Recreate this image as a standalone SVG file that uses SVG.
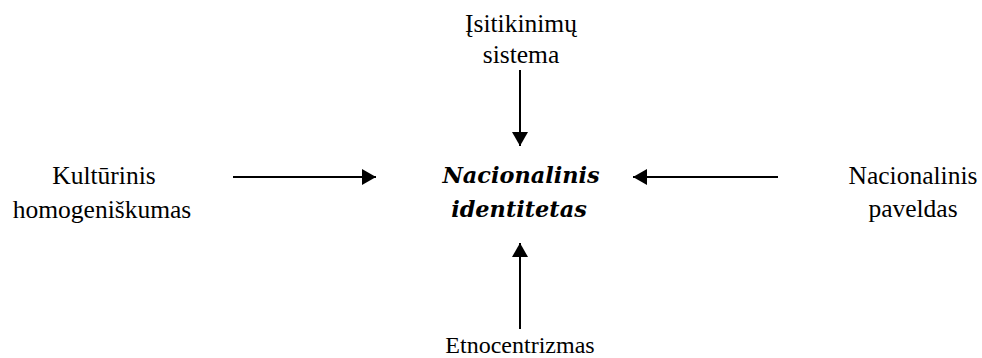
<svg xmlns="http://www.w3.org/2000/svg" width="982" height="358" viewBox="0 0 982 358">
  <defs>
    <!-- solid triangular arrowhead shared by all connectors -->
    <marker id="head" viewBox="0 0 14 16" refX="14" refY="8" markerWidth="14" markerHeight="16" markerUnits="userSpaceOnUse" orient="auto">
      <path d="M0,0 L14,8 L0,16 Z" fill="#000"/>
    </marker>
  </defs>
  <rect width="982" height="358" fill="#fff"/>

  <g id="connectors" stroke="#000" stroke-width="2" fill="none" marker-end="url(#head)">
    <line x1="520" y1="70" x2="520" y2="146"/>
    <line x1="233" y1="177" x2="376" y2="177"/>
    <line x1="778" y1="177" x2="633" y2="177"/>
    <line x1="520" y1="329" x2="520" y2="243"/>
  </g>

  <g id="node-isitikinimu">
    <text x="521" y="32" font-family="'Liberation Serif', serif" font-size="25.5" text-anchor="middle">Įsitikinimų</text>
    <text x="521" y="63" font-family="'Liberation Serif', serif" font-size="25.5" text-anchor="middle">sistema</text>
  </g>

  <g id="node-kulturinis">
    <text x="104" y="184" font-family="'Liberation Serif', serif" font-size="25.5" text-anchor="middle">Kultūrinis</text>
    <text x="102" y="218" font-family="'Liberation Serif', serif" font-size="25.5" text-anchor="middle">homogeniškumas</text>
  </g>

  <g id="node-paveldas">
    <text x="913" y="184" font-family="'Liberation Serif', serif" font-size="25.5" text-anchor="middle">Nacionalinis</text>
    <text x="913" y="217" font-family="'Liberation Serif', serif" font-size="25.5" text-anchor="middle">paveldas</text>
  </g>

  <g id="node-etnocentrizmas">
    <text x="520" y="353" font-family="'Liberation Serif', serif" font-size="24" text-anchor="middle">Etnocentrizmas</text>
  </g>

  <g id="node-identitetas">
    <text x="521" y="183" font-family="'DejaVu Serif', serif" font-size="22.4" font-weight="bold" font-style="italic" text-anchor="middle">Nacionalinis</text>
    <text x="519" y="217" font-family="'DejaVu Serif', serif" font-size="22.4" font-weight="bold" font-style="italic" text-anchor="middle">identitetas</text>
  </g>
</svg>
